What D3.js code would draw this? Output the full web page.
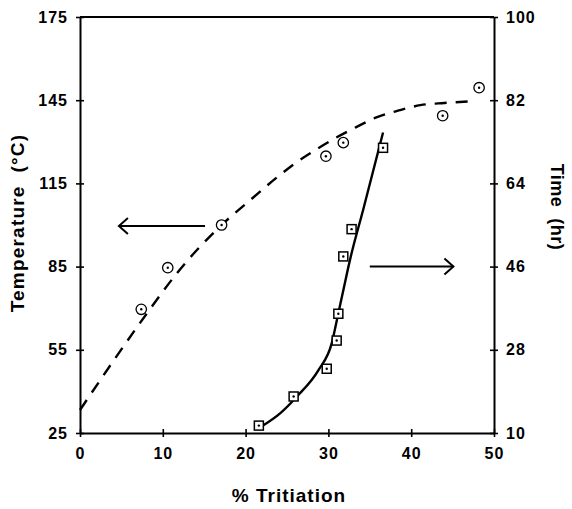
<!DOCTYPE html>
<html>
<head>
<meta charset="utf-8">
<script src="https://cdn.jsdelivr.net/npm/d3@7"></script>
<style>
  html, body { margin: 0; padding: 0; background: #fff; }
  svg { display: block; }
  text { font-family: "Liberation Sans", Arial, Helvetica, sans-serif; font-weight: bold; fill: #000; }
</style>
</head>
<body>
<svg id="chart" width="572" height="509"></svg>
<script>
// ---- Data ----
// Temperature measurements (left axis, circles)
const tempX = [7.4, 10.6, 17.1, 29.7, 31.8, 43.8, 48.2];
const tempY = [69.6, 84.6, 100.0, 124.8, 129.7, 139.4, 149.5];
// Dashed temperature trend (left axis)
const tempCurveX = [0, 8.1, 11.7, 17.1, 20.1, 23.8, 26.0, 28.3, 30.7, 33.3, 35.8, 38.5, 41.1, 44.0, 47.2];
const tempCurveY = [33.3, 68.2, 82.6, 100.0, 107.8, 117.2, 122.3, 126.8, 131.1, 135.2, 138.8, 141.3, 143.2, 144.0, 144.6];
// Time measurements (right axis, squares)
const timeX = [21.6, 25.8, 29.8, 31.0, 31.2, 31.8, 32.8, 36.6];
const timeY = [11.6, 17.9, 23.9, 30.0, 35.8, 48.2, 54.1, 71.7];
// Solid time trend (right axis)
const timeCurveX = [22.1, 24.2, 26.2, 28.8, 30.4, 31.2, 31.9, 32.6, 34.2, 36.6];
const timeCurveY = [11.6, 14.3, 17.9, 23.6, 29.4, 35.9, 41.7, 47.4, 58.3, 75.0];
// Tick labels
const xTicks = [0, 10, 20, 30, 40, 50];
const tempTicks = [25, 55, 85, 115, 145, 175];
const timeTicks = [10, 28, 46, 64, 82, 100];
// Arrows (data units): [from x, to x, y]
const leftArrow = [15.1, 4.7, 99.6];   // temperature scale
const rightArrow = [35.0, 45.1, 46.0]; // time scale

// ---- Layout ----
const svg = d3.select("#chart");
const L = 80, R = 494, T = 17, B = 433;

const x = d3.scaleLinear().domain([0, 50]).range([L, R]);
const yT = d3.scaleLinear().domain([25, 175]).range([B, T]);
const yH = d3.scaleLinear().domain([10, 100]).range([B, T]);

svg.append("rect").attr("width", 572).attr("height", 509).attr("fill", "#fff");

// Frame top
svg.append("line").attr("x1", L).attr("x2", R).attr("y1", T).attr("y2", T)
  .attr("stroke", "#000").attr("stroke-width", 2);

function styleAxis(g) {
  g.select(".domain").attr("stroke", "#000").attr("stroke-width", 2);
  g.selectAll(".tick line").attr("stroke", "#000").attr("stroke-width", 1.6);
  g.selectAll(".tick text").attr("font-size", "16px").style("letter-spacing", "1px");
}

// Bottom axis
const gx = svg.append("g").attr("transform", `translate(0,${B})`)
  .call(d3.axisBottom(x).tickValues(xTicks).tickSize(4).tickSizeOuter(0).tickPadding(11));
styleAxis(gx);
gx.selectAll(".tick line").attr("y1", -4);

// Left axis
const gl = svg.append("g").attr("transform", `translate(${L},0)`)
  .call(d3.axisLeft(yT).tickValues(tempTicks).tickSize(4).tickSizeOuter(0).tickPadding(8));
styleAxis(gl);
gl.selectAll(".tick line").attr("x1", 4);

// Right axis
const gr = svg.append("g").attr("transform", `translate(${R},0)`)
  .call(d3.axisRight(yH).tickValues(timeTicks).tickSize(4).tickSizeOuter(0).tickPadding(8));
styleAxis(gr);
gr.selectAll(".tick line").attr("x1", -4);

// Dashed temperature curve
const tempLine = d3.line().x(d => x(d[0])).y(d => yT(d[1])).curve(d3.curveMonotoneX);
svg.append("path")
  .datum(tempCurveX.map((v, i) => [v, tempCurveY[i]]))
  .attr("d", tempLine)
  .attr("fill", "none").attr("stroke", "#000").attr("stroke-width", 2.4)
  .attr("stroke-dasharray", "12,9");

// Solid time curve
const timeLine = d3.line().x(d => x(d[0])).y(d => yH(d[1])).curve(d3.curveMonotoneX);
svg.append("path")
  .datum(timeCurveX.map((v, i) => [v, timeCurveY[i]]))
  .attr("d", timeLine)
  .attr("fill", "none").attr("stroke", "#000").attr("stroke-width", 2.4);

// Circles (temperature)
const cg = svg.append("g");
tempX.forEach((v, i) => {
  cg.append("circle").attr("cx", x(v)).attr("cy", yT(tempY[i])).attr("r", 5.2)
    .attr("fill", "#fff").attr("stroke", "#000").attr("stroke-width", 1.3);
  cg.append("circle").attr("cx", x(v)).attr("cy", yT(tempY[i])).attr("r", 1.2).attr("fill", "#000");
});

// Squares (time)
const sg = svg.append("g");
timeX.forEach((v, i) => {
  sg.append("rect").attr("x", x(v) - 4.5).attr("y", yH(timeY[i]) - 4.5)
    .attr("width", 9).attr("height", 9)
    .attr("fill", "#fff").attr("stroke", "#000").attr("stroke-width", 1.5);
  sg.append("circle").attr("cx", x(v)).attr("cy", yH(timeY[i])).attr("r", 1.2).attr("fill", "#000");
});

// Arrows
function arrow(x1, x2, yy) {
  const g = svg.append("g").attr("stroke", "#000").attr("stroke-width", 2).attr("fill", "none");
  g.append("line").attr("x1", x1).attr("x2", x2).attr("y1", yy).attr("y2", yy);
  const dir = x2 > x1 ? -1 : 1;
  g.append("path")
    .attr("d", `M${x2 + dir * 9},${yy - 8} L${x2},${yy} L${x2 + dir * 9},${yy + 8}`)
    .attr("stroke-linejoin", "miter");
}
arrow(x(leftArrow[0]), x(leftArrow[1]), yT(leftArrow[2]));
arrow(x(rightArrow[0]), x(rightArrow[1]), yH(rightArrow[2]));

// Axis titles
svg.append("text")
  .attr("transform", "translate(24,223) rotate(-90)")
  .attr("text-anchor", "middle").attr("font-size", "19px").style("letter-spacing", "1.2px")
  .text("Temperature\u00a0\u00a0(°C)");

svg.append("text")
  .attr("transform", "translate(551,207) rotate(90)")
  .attr("text-anchor", "middle").attr("font-size", "18px").style("letter-spacing", "0.5px")
  .text("Time\u00a0\u00a0(hr)");

svg.append("text")
  .attr("x", 289).attr("y", 502)
  .attr("text-anchor", "middle").attr("font-size", "19px").style("letter-spacing", "1px")
  .text("% Tritiation");
</script>
</body>
</html>
